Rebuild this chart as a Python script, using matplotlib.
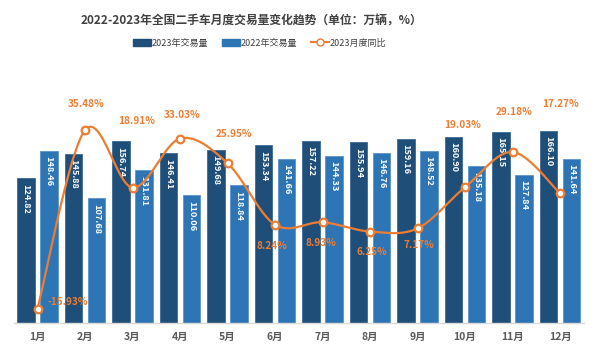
import numpy as np
import matplotlib
matplotlib.use("Agg")
from matplotlib import pyplot as plt
from matplotlib.patches import Rectangle
from matplotlib.lines import Line2D

plt.rcParams['font.family'] = ['Noto Sans CJK SC', 'DejaVu Sans']

months = ['1月', '2月', '3月', '4月', '5月', '6月',
          '7月', '8月', '9月', '10月', '11月', '12月']
vol_2023 = [124.82, 145.88, 156.74, 146.41, 149.68, 153.34,
            157.22, 155.94, 159.16, 160.90, 165.15, 166.10]
vol_2022 = [148.46, 107.68, 131.81, 110.06, 118.84, 141.66,
            144.33, 146.76, 148.52, 135.18, 127.84, 141.64]
yoy_2023 = [-15.93, 35.48, 18.91, 33.03, 25.95, 8.24,
            8.93, 6.25, 7.17, 19.03, 29.18, 17.27]
# label offsets (points) for the percentage labels, as placed in the original
pct_dx = [22, 1, 3, 1.5, 5, -2, -1, 1, 1, -2, 1.5, 0.5]
pct_dy = [5, 19, 48, 17, 21, -15, -15, -15, -12, 45, 29, 64]

c23 = '#1F4E79'
c22 = '#2E75B6'
corange = '#ED7D31'
cgray = '#404040'

fig = plt.figure(figsize=(6, 3.57), dpi=100)
ax = fig.add_axes([13.75 / 600, 1 - 322.7 / 357, 570 / 600, 277.7 / 357])
X = np.arange(12)
w = 0.37
b1 = ax.bar(X - 0.24, vol_2023, width=w, color=c23, edgecolor='#3A6A96', linewidth=0.6)
b2 = ax.bar(X + 0.24, vol_2022, width=w, color=c22, edgecolor='#5B93C9', linewidth=0.6)
for bars, vals in ((b1, vol_2023), (b2, vol_2022)):
    for r, v in zip(bars, vals):
        ax.annotate(f'{v:.2f}', (r.get_x() + r.get_width() / 2, r.get_height()),
                    xytext=(0, -4), textcoords='offset points', rotation=-90,
                    ha='center', va='top', color='white', fontsize=6.6,
                    fontweight='bold')
ax.set_xlim(-0.5, 11.5)
ax.set_ylim(0, 240)
ax.set_xticks(X)
ax.set_xticklabels(months, fontsize=7.5, fontweight='bold', color='#595959')
ax.tick_params(axis='x', length=0, pad=7)
ax.set_yticks([])
for s in ['top', 'left', 'right']:
    ax.spines[s].set_visible(False)
ax.spines['bottom'].set_color('#D9D9D9')
ax.spines['bottom'].set_linewidth(1)

# smoothed line (Catmull-Rom through the monthly points)
ax2 = ax.twinx()
ax2.set_ylim(-20, 60)
ax2.axis('off')
px = np.array(X, dtype=float)
py = np.array(yoy_2023, dtype=float)
P = np.column_stack([px, py])
P = np.vstack([P[0], P, P[-1]])
xs, ys = [], []
t = np.linspace(0, 1, 30)
for i in range(1, len(P) - 2):
    p0, p1, p2, p3 = P[i - 1], P[i], P[i + 1], P[i + 2]
    c1 = p1 + (p2 - p0) / 6
    c2 = p2 - (p3 - p1) / 6
    seg = ((1 - t) ** 3)[:, None] * p1 + (3 * (1 - t) ** 2 * t)[:, None] * c1 \
        + (3 * (1 - t) * t ** 2)[:, None] * c2 + (t ** 3)[:, None] * p2
    xs.extend(seg[:, 0])
    ys.extend(seg[:, 1])
ax2.plot(xs, ys, color=corange, linewidth=1.6, zorder=3)
ax2.plot(px, py, 'o', color=corange, markerfacecolor='white', markeredgewidth=1.6,
         markersize=5.5, zorder=4)
for i, v in enumerate(yoy_2023):
    ax2.annotate(f'{v:.2f}%', (px[i], v), xytext=(pct_dx[i], pct_dy[i]),
                 textcoords='offset points', ha='center', va='center',
                 color=corange, fontsize=7.2, fontweight='bold')

fig.text(251 / 600, 1 - 21 / 357, '2022-2023年全国二手车月度交易量变化趋势（单位：万辆，%）',
         ha='center', va='center', fontsize=8.5, fontweight='bold', color=cgray)

handles = [Rectangle((0, 0), 1, 1, color=c23), Rectangle((0, 0), 1, 1, color=c22),
           Line2D([], [], color=corange, marker='o', markerfacecolor='white',
                  markersize=5, linewidth=1.5)]
labels = ['2023年交易量', '2022年交易量', '2023月度同比']
fig.legend(handles, labels, loc='center', bbox_to_anchor=(259.5 / 600, 1 - 43 / 357),
           ncol=3, frameon=False, fontsize=6.5, handlelength=2, handletextpad=0.1,
           columnspacing=1.5, labelcolor=cgray, handleheight=0.7)

fig.savefig('out.png', dpi=100)
